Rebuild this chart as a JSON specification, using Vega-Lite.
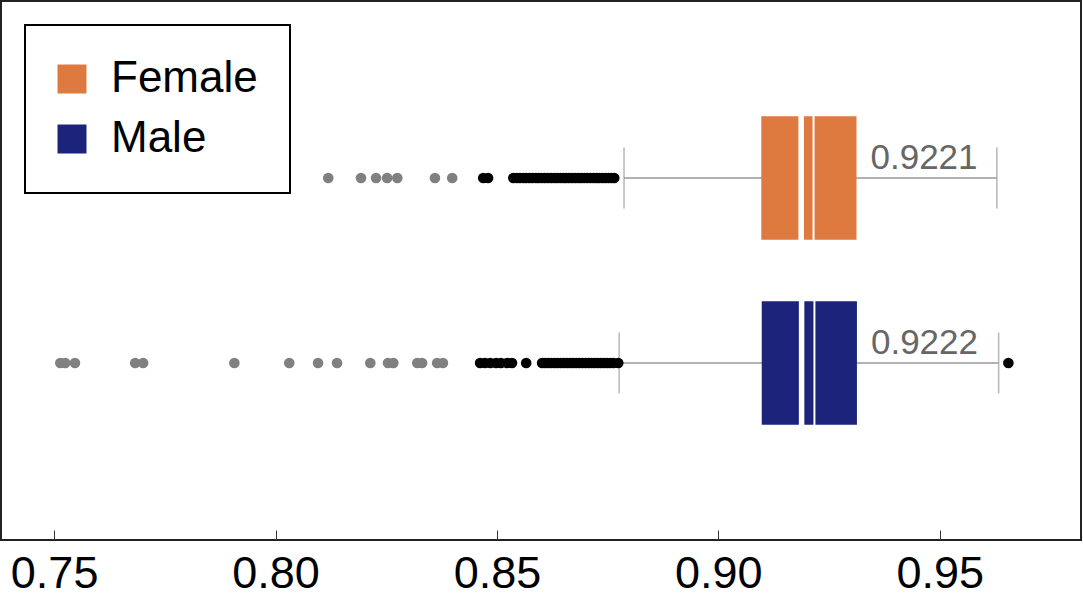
{
  "$schema": "https://vega.github.io/schema/vega-lite/v6.json",
  "autosize": "none",
  "width": 1080,
  "height": 539,
  "padding": {"left": 1, "top": 1, "right": 2, "bottom": 60},
  "background": "white",
  "datasets": {
    "stats": [
      {"gender": "Female", "low": 0.8787, "q1": 0.9097, "mean": 0.9187, "median": 0.9215, "q3": 0.9312, "high": 0.9629, "label": "0.9221"},
      {"gender": "Male", "low": 0.8776, "q1": 0.9098, "mean": 0.9188, "median": 0.9217, "q3": 0.9313, "high": 0.9633, "label": "0.9222"}
    ],
    "points": [
      {"gender": "Female", "value": 0.8119, "kind": "far"},
      {"gender": "Female", "value": 0.8193, "kind": "far"},
      {"gender": "Female", "value": 0.8227, "kind": "far"},
      {"gender": "Female", "value": 0.8252, "kind": "far"},
      {"gender": "Female", "value": 0.8275, "kind": "far"},
      {"gender": "Female", "value": 0.836, "kind": "far"},
      {"gender": "Female", "value": 0.8399, "kind": "far"},
      {"gender": "Female", "value": 0.8469, "kind": "near"},
      {"gender": "Female", "value": 0.848, "kind": "near"},
      {"gender": "Female", "value": 0.8537, "kind": "near"},
      {"gender": "Female", "value": 0.8545, "kind": "near"},
      {"gender": "Female", "value": 0.8552, "kind": "near"},
      {"gender": "Female", "value": 0.856, "kind": "near"},
      {"gender": "Female", "value": 0.8566, "kind": "near"},
      {"gender": "Female", "value": 0.8573, "kind": "near"},
      {"gender": "Female", "value": 0.858, "kind": "near"},
      {"gender": "Female", "value": 0.8588, "kind": "near"},
      {"gender": "Female", "value": 0.8594, "kind": "near"},
      {"gender": "Female", "value": 0.8601, "kind": "near"},
      {"gender": "Female", "value": 0.8608, "kind": "near"},
      {"gender": "Female", "value": 0.8615, "kind": "near"},
      {"gender": "Female", "value": 0.8622, "kind": "near"},
      {"gender": "Female", "value": 0.8629, "kind": "near"},
      {"gender": "Female", "value": 0.8636, "kind": "near"},
      {"gender": "Female", "value": 0.8643, "kind": "near"},
      {"gender": "Female", "value": 0.865, "kind": "near"},
      {"gender": "Female", "value": 0.8656, "kind": "near"},
      {"gender": "Female", "value": 0.8663, "kind": "near"},
      {"gender": "Female", "value": 0.867, "kind": "near"},
      {"gender": "Female", "value": 0.8677, "kind": "near"},
      {"gender": "Female", "value": 0.8684, "kind": "near"},
      {"gender": "Female", "value": 0.869, "kind": "near"},
      {"gender": "Female", "value": 0.8697, "kind": "near"},
      {"gender": "Female", "value": 0.8704, "kind": "near"},
      {"gender": "Female", "value": 0.8711, "kind": "near"},
      {"gender": "Female", "value": 0.8718, "kind": "near"},
      {"gender": "Female", "value": 0.8725, "kind": "near"},
      {"gender": "Female", "value": 0.8731, "kind": "near"},
      {"gender": "Female", "value": 0.8738, "kind": "near"},
      {"gender": "Female", "value": 0.8745, "kind": "near"},
      {"gender": "Female", "value": 0.8752, "kind": "near"},
      {"gender": "Female", "value": 0.8759, "kind": "near"},
      {"gender": "Female", "value": 0.8765, "kind": "near"},
      {"gender": "Male", "value": 0.7514, "kind": "far"},
      {"gender": "Male", "value": 0.7525, "kind": "far"},
      {"gender": "Male", "value": 0.7547, "kind": "far"},
      {"gender": "Male", "value": 0.7683, "kind": "far"},
      {"gender": "Male", "value": 0.7701, "kind": "far"},
      {"gender": "Male", "value": 0.7907, "kind": "far"},
      {"gender": "Male", "value": 0.8031, "kind": "far"},
      {"gender": "Male", "value": 0.8096, "kind": "far"},
      {"gender": "Male", "value": 0.8139, "kind": "far"},
      {"gender": "Male", "value": 0.8214, "kind": "far"},
      {"gender": "Male", "value": 0.8254, "kind": "far"},
      {"gender": "Male", "value": 0.8266, "kind": "far"},
      {"gender": "Male", "value": 0.832, "kind": "far"},
      {"gender": "Male", "value": 0.8331, "kind": "far"},
      {"gender": "Male", "value": 0.8365, "kind": "far"},
      {"gender": "Male", "value": 0.8378, "kind": "far"},
      {"gender": "Male", "value": 0.8462, "kind": "near"},
      {"gender": "Male", "value": 0.8473, "kind": "near"},
      {"gender": "Male", "value": 0.8485, "kind": "near"},
      {"gender": "Male", "value": 0.8498, "kind": "near"},
      {"gender": "Male", "value": 0.8509, "kind": "near"},
      {"gender": "Male", "value": 0.8523, "kind": "near"},
      {"gender": "Male", "value": 0.8534, "kind": "near"},
      {"gender": "Male", "value": 0.8566, "kind": "near"},
      {"gender": "Male", "value": 0.8602, "kind": "near"},
      {"gender": "Male", "value": 0.8609, "kind": "near"},
      {"gender": "Male", "value": 0.8616, "kind": "near"},
      {"gender": "Male", "value": 0.8623, "kind": "near"},
      {"gender": "Male", "value": 0.863, "kind": "near"},
      {"gender": "Male", "value": 0.8637, "kind": "near"},
      {"gender": "Male", "value": 0.8644, "kind": "near"},
      {"gender": "Male", "value": 0.8651, "kind": "near"},
      {"gender": "Male", "value": 0.8658, "kind": "near"},
      {"gender": "Male", "value": 0.8665, "kind": "near"},
      {"gender": "Male", "value": 0.8672, "kind": "near"},
      {"gender": "Male", "value": 0.8679, "kind": "near"},
      {"gender": "Male", "value": 0.8686, "kind": "near"},
      {"gender": "Male", "value": 0.8693, "kind": "near"},
      {"gender": "Male", "value": 0.87, "kind": "near"},
      {"gender": "Male", "value": 0.8707, "kind": "near"},
      {"gender": "Male", "value": 0.8714, "kind": "near"},
      {"gender": "Male", "value": 0.8721, "kind": "near"},
      {"gender": "Male", "value": 0.8728, "kind": "near"},
      {"gender": "Male", "value": 0.8735, "kind": "near"},
      {"gender": "Male", "value": 0.8742, "kind": "near"},
      {"gender": "Male", "value": 0.8749, "kind": "near"},
      {"gender": "Male", "value": 0.8756, "kind": "near"},
      {"gender": "Male", "value": 0.8763, "kind": "near"},
      {"gender": "Male", "value": 0.8774, "kind": "near"},
      {"gender": "Male", "value": 0.9655, "kind": "near"}
    ]
  },
  "encoding": {
    "y": {
      "field": "gender",
      "type": "nominal",
      "axis": null,
      "scale": {"domain": ["Female", "Male"], "paddingInner": 0.3317, "paddingOuter": 0.6223}
    }
  },
  "layer": [
    {
      "data": {"name": "stats"},
      "mark": {"type": "rule", "color": "#999999", "strokeWidth": 1.5},
      "encoding": {
        "x": {
          "field": "low",
          "type": "quantitative",
          "scale": {"domain": [0.738, 0.9819], "nice": false, "zero": false},
          "axis": {
            "values": [0.75, 0.8, 0.85, 0.9, 0.95],
            "format": ".2f",
            "title": null,
            "domain": false,
            "grid": false,
            "tickSize": -10,
            "tickColor": "#333333",
            "tickWidth": 1,
            "labelFontSize": 45,
            "labelColor": "black",
            "labelPadding": 21
          }
        },
        "x2": {"field": "high"}
      }
    },
    {
      "data": {"name": "stats"},
      "mark": {"type": "tick", "color": "#999999", "thickness": 1.5, "size": 61},
      "encoding": {"x": {"field": "low", "type": "quantitative"}}
    },
    {
      "data": {"name": "stats"},
      "mark": {"type": "tick", "color": "#999999", "thickness": 1.5, "size": 61},
      "encoding": {"x": {"field": "high", "type": "quantitative"}}
    },
    {
      "data": {"name": "stats"},
      "mark": {"type": "bar"},
      "encoding": {
        "x": {"field": "q1", "type": "quantitative"},
        "x2": {"field": "q3"},
        "color": {
          "field": "gender",
          "type": "nominal",
          "scale": {"domain": ["Female", "Male"], "range": ["#DE7A40", "#1B237A"]},
          "legend": {
            "title": null,
            "orient": "none",
            "legendX": 24,
            "legendY": 24,
            "symbolType": "square",
            "symbolSize": 841,
            "symbolStrokeWidth": 0,
            "symbolOffset": -7,
            "labelFontSize": 44,
            "labelColor": "black",
            "labelOffset": 17,
            "rowPadding": 16,
            "padding": 32,
            "strokeColor": "black",
            "fillColor": "white",
            "encode": {"legend": {"update": {"strokeWidth": {"value": 2}}}}
          }
        }
      }
    },
    {
      "data": {"name": "stats"},
      "mark": {"type": "tick", "color": "white", "thickness": 5.5, "size": 124, "opacity": 1},
      "encoding": {"x": {"field": "mean", "type": "quantitative"}}
    },
    {
      "data": {"name": "stats"},
      "mark": {"type": "tick", "color": "white", "thickness": 2, "size": 124, "opacity": 1},
      "encoding": {"x": {"field": "median", "type": "quantitative"}}
    },
    {
      "data": {"name": "points"},
      "mark": {"type": "circle", "size": 113, "opacity": 1},
      "encoding": {
        "x": {"field": "value", "type": "quantitative"},
        "color": {"condition": {"test": "datum.kind == 'far'", "value": "#808080"}, "value": "black"}
      }
    },
    {
      "data": {"name": "stats"},
      "mark": {"type": "text", "align": "left", "baseline": "alphabetic", "dx": 14, "dy": -9, "fontSize": 35, "color": "#666666"},
      "encoding": {
        "x": {"field": "q3", "type": "quantitative"},
        "text": {"field": "label"}
      }
    }
  ],
  "config": {
    "font": "Liberation Sans",
    "view": {"stroke": "#222222", "strokeWidth": 2}
  }
}
